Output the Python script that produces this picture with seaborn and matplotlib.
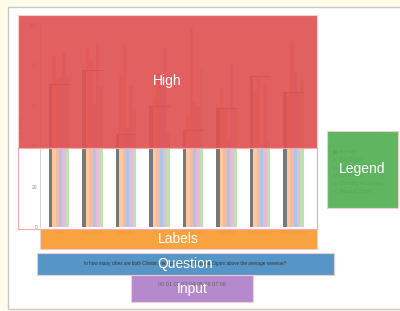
import pandas as pd
import matplotlib.pyplot as plt
import seaborn as sns
from matplotlib.patches import Rectangle

# --- Data ---
cities = ["Delhi", "New York", "Moscow", "Tokyo", "Singapore", "London", "Hong Kong", "Mexico City"]
series = ["Average", "Bus Driver", "Apples", "Car Rental", "Climbing equipment", "Tea and Cigars"]
average = [71, 78, 46, 60, 48, 59, 75, 67]
bus_driver = [84, 89, 76, 64, 55, 69, 67, 65]
apples = [73, 82, 90, 76, 99, 59, 74, 92]
car_rental = [74, 61, 49, 72, 62, 43, 41, 77]
climbing = [86, 91, 70, 89, 60, 80, 71, 67]
tea_cigars = [74, 70, 59, 47, 78, 58, 43, 73]
y_ticks = [0, 20, 40, 60, 80, 100]
question = "In how many cities are both Climbing equipment and Tea and Cigars above the average revenue?"
answers = "00 01 02 03 04 05 06 07 08"

palette = ["#787878", "#fdc99c", "#f3baa6", "#a8c8ea", "#eab8da", "#bce2b3"]

rows = []
for name, vals in zip(series, [average, bus_driver, apples, car_rental, climbing, tea_cigars]):
    for c, v in zip(cities, vals):
        rows.append({"city": c, "series": name, "value": v})
df = pd.DataFrame(rows)

W, H = 400, 311
fig = plt.figure(figsize=(W / 100, H / 100), dpi=100, facecolor="#fffbe8")
plt.rcParams["font.family"] = ["Liberation Sans", "DejaVu Sans"]

# --- background panel ---
bg = fig.add_axes([0, 0, 1, 1])
bg.set_xlim(0, W)
bg.set_ylim(H, 0)
bg.axis("off")
bg.add_patch(Rectangle((8, 7), 400, 302, facecolor="white", edgecolor="#c8c8c8", lw=1))

# --- underlying chart ---
ax = fig.add_axes([40 / W, 1 - 227.3 / H, 277 / W, (227.3 - 25) / H])
ax.set_zorder(1)
ax.patch.set_alpha(0)
sns.barplot(data=df, x="city", y="value", hue="series", hue_order=series,
            palette=palette, width=0.6, gap=0, saturation=1, ax=ax, legend=True)
for i, a in enumerate(average):
    ax.hlines(a, i - 0.3, i + 0.3, color="#555555", lw=0.8)
ax.set_xlim(-0.567, 7.70)
ax.set_ylim(0, 100)
ax.set_yticks(y_ticks)
ax.tick_params(axis="both", labelsize=3.5, colors="#888888", length=0, pad=2)
ax.set_xlabel("")
ax.set_ylabel("Revenue", fontsize=3.5, color="#888888", labelpad=3)
for s in ["top", "right", "bottom"]:
    ax.spines[s].set_visible(False)
ax.spines["left"].set_color("#cccccc")
ax.spines["left"].set_linewidth(0.6)
ax.legend(loc="upper left", bbox_to_anchor=(333 / W, 1 - 149.5 / H), bbox_transform=fig.transFigure,
          fontsize=3.5, frameon=False, borderpad=0, borderaxespad=0,
          handlelength=0.8, handleheight=0.8,
          handletextpad=0.4, labelspacing=0.6, labelcolor="#555555")

# --- overlay annotations ---
ov = fig.add_axes([0, 0, 1, 1])
ov.set_zorder(2)
ov.patch.set_alpha(0)
ov.set_xlim(0, W)
ov.set_ylim(H, 0)
ov.axis("off")

ov.text(185.5, 263.5, question, fontsize=3.3, color="#333333", ha="center", va="center")
ov.text(192, 284, answers, fontsize=4, color="#666666", ha="center", va="center")

boxes = [
    ("High", 18, 15, 317, 148, "#e05252"),
    ("Labels", 40, 229, 317, 249, "#f89a30"),
    ("Question", 37, 253, 334, 275, "#468cc4"),
    ("Input", 131, 275, 253, 302, "#ae80c9"),
    ("Legend", 327, 131, 398, 208, "#52b052"),
]
for label, x0, y0, x1, y1, col in boxes:
    ov.add_patch(Rectangle((x0, y0), x1 - x0, y1 - y0, facecolor=col, alpha=0.92,
                           edgecolor="#f5d0d0", lw=0.8))
    ov.text((x0 + x1) / 2, (y0 + y1) / 2, label, fontsize=10, color="white",
            ha="center", va="center")
ov.add_patch(Rectangle((18, 148), 299, 81, facecolor="none", edgecolor="#f4a8ae", lw=0.8))

fig.savefig("out.png", dpi=100, facecolor=fig.get_facecolor())
